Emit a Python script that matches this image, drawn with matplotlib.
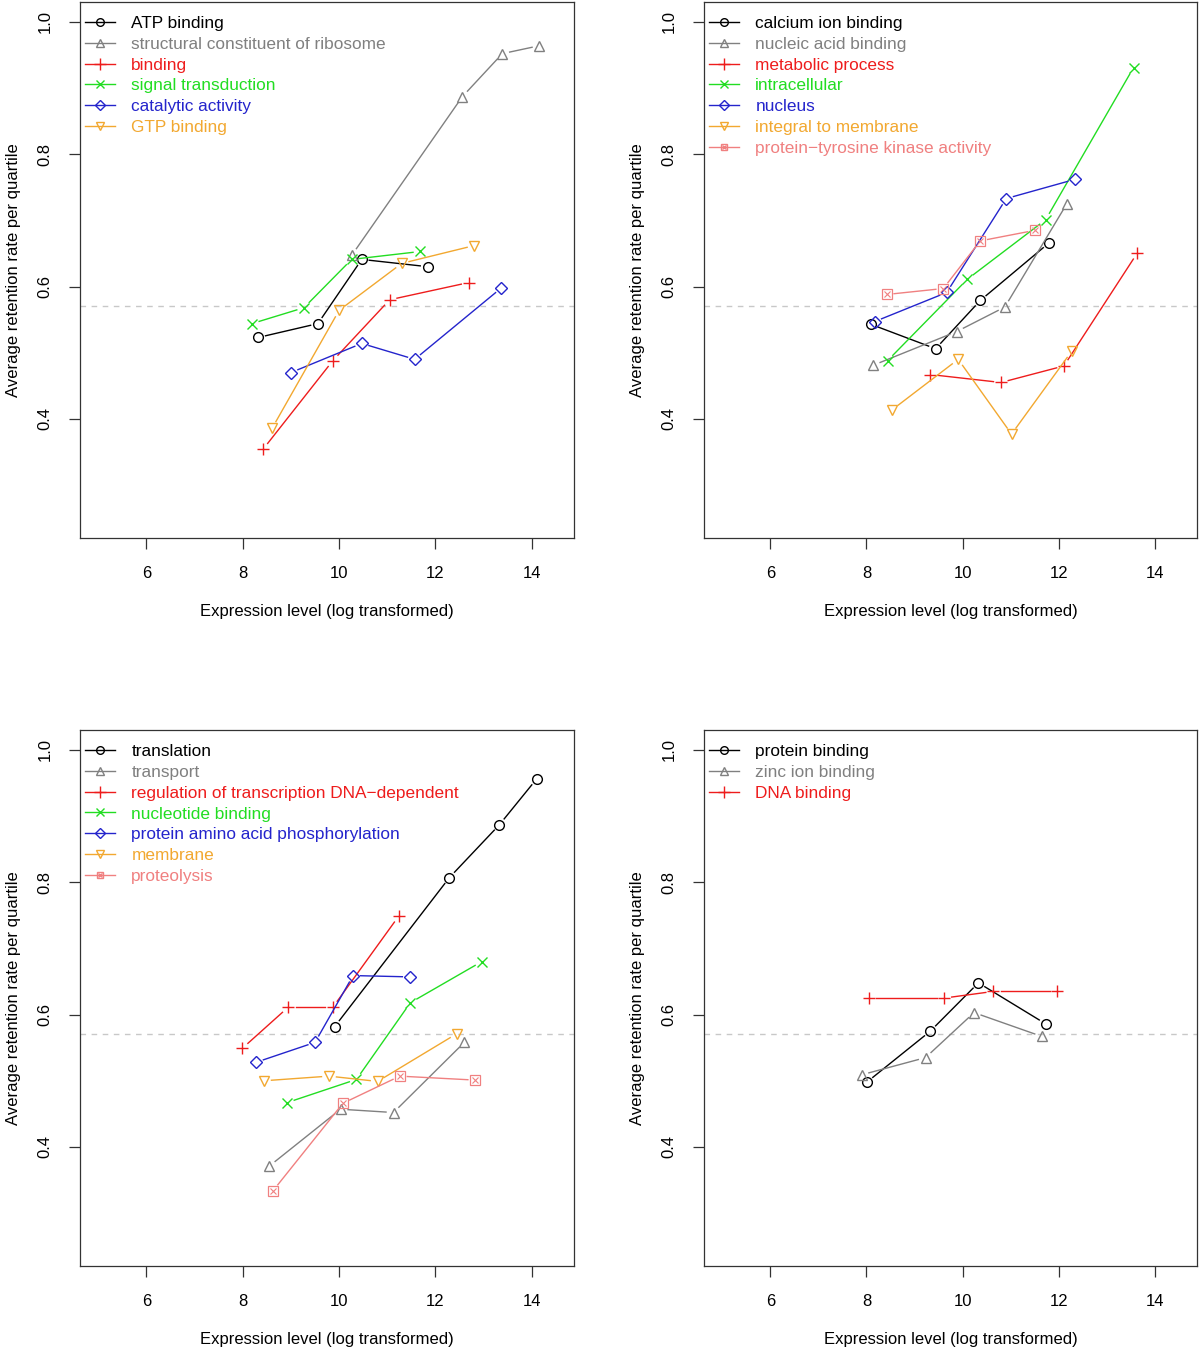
import numpy as np
import matplotlib
matplotlib.use("Agg")
import matplotlib.pyplot as plt
from matplotlib.lines import Line2D

plt.rcParams['font.family'] = ['Liberation Sans', 'DejaVu Sans']

# colours used for the series in order (R-style palette)
colors = ['black', '#808080', '#ee1c1c', '#22dd22', '#2424cc', '#f2a830', '#f08080']
markers = ['o', '^', '+', 'x', 'D', 'v', 'sx']

baseline = 0.57

# panel 1
p1_labels = ['ATP binding', 'structural constituent of ribosome', 'binding',
             'signal transduction', 'catalytic activity', 'GTP binding']
p1_x = [[8.32, 9.56, 10.47, 11.84],
        [10.27, 12.56, 13.39, 14.16],
        [8.42, 9.87, 11.05, 12.69],
        [8.19, 9.27, 10.26, 11.69],
        [9.00, 10.47, 11.57, 13.37],
        [8.61, 10.00, 11.30, 12.81]]
p1_y = [[0.523, 0.544, 0.641, 0.630],
        [0.648, 0.887, 0.952, 0.964],
        [0.354, 0.488, 0.580, 0.606],
        [0.544, 0.568, 0.641, 0.653],
        [0.470, 0.514, 0.490, 0.598],
        [0.386, 0.564, 0.635, 0.662]]

# panel 2
p2_labels = ['calcium ion binding', 'nucleic acid binding', 'metabolic process',
             'intracellular', 'nucleus', 'integral to membrane',
             'protein\u2212tyrosine kinase activity']
p2_x = [[8.09, 9.44, 10.37, 11.80],
        [8.14, 9.88, 10.88, 12.17],
        [9.33, 10.80, 12.11, 13.64],
        [8.44, 10.10, 11.73, 13.56],
        [8.17, 9.67, 10.91, 12.34],
        [8.54, 9.91, 11.02, 12.27],
        [8.42, 9.60, 10.37, 11.51]]
p2_y = [[0.543, 0.506, 0.579, 0.666],
        [0.481, 0.532, 0.569, 0.725],
        [0.467, 0.455, 0.480, 0.651],
        [0.488, 0.611, 0.701, 0.931],
        [0.547, 0.591, 0.733, 0.762],
        [0.414, 0.490, 0.377, 0.502],
        [0.588, 0.597, 0.669, 0.685]]

# panel 3
p3_labels = ['translation', 'transport', 'regulation of transcription DNA\u2212dependent',
             'nucleotide binding', 'protein amino acid phosphorylation', 'membrane',
             'proteolysis']
p3_x = [[9.91, 12.29, 13.33, 14.10],
        [8.55, 10.03, 11.13, 12.60],
        [7.99, 8.94, 9.87, 11.24],
        [8.92, 10.36, 11.48, 12.96],
        [8.28, 9.50, 10.29, 11.47],
        [8.44, 9.79, 10.80, 12.44],
        [8.63, 10.08, 11.26, 12.83]]
p3_y = [[0.582, 0.807, 0.887, 0.956],
        [0.371, 0.457, 0.452, 0.558],
        [0.549, 0.611, 0.611, 0.749],
        [0.467, 0.502, 0.618, 0.680],
        [0.528, 0.558, 0.659, 0.657],
        [0.500, 0.507, 0.499, 0.571],
        [0.334, 0.466, 0.507, 0.501]]

# panel 4
p4_labels = ['protein binding', 'zinc ion binding', 'DNA binding']
p4_x = [[8.01, 9.33, 10.33, 11.73],
        [7.90, 9.23, 10.24, 11.65],
        [8.05, 9.62, 10.64, 11.97]]
p4_y = [[0.498, 0.575, 0.648, 0.586],
        [0.509, 0.535, 0.603, 0.567],
        [0.625, 0.625, 0.635, 0.635]]

fig = plt.figure(figsize=(12, 13.5), dpi=100)
positions = [[0.0667, 0.6015, 0.4117, 0.397],
             [0.5867, 0.6015, 0.4108, 0.397],
             [0.0667, 0.0622, 0.4117, 0.397],
             [0.5867, 0.0622, 0.4108, 0.397]]
panels = [(p1_labels, p1_x, p1_y), (p2_labels, p2_x, p2_y),
          (p3_labels, p3_x, p3_y), (p4_labels, p4_x, p4_y)]

msizes = {'o': 7, '^': 7.5, 'v': 7.5, '+': 9, 'x': 7, 'D': 6.5}
leg_sizes = {'o': 5.5, '^': 6, 'v': 6, '+': 8, 'x': 5.5, 'D': 5.5}


def marker_lines(ax, x, y, m, c):
    if m == 'sx':
        ax.plot(x, y, 's', ms=6.5, mfc='none', mec=c, mew=0.9, ls='none')
        ax.plot(x, y, 'x', ms=4.5, mec=c, mew=0.8, ls='none')
        return
    ax.plot(x, y, m, ms=msizes[m], mfc='none', mec=c, mew=1.0, ls='none')


for pos, (labels, xs, ys) in zip(positions, panels):
    ax = fig.add_axes(pos)
    ax.set_xlim(4.62, 14.88)
    ax.set_ylim(0.22, 1.03)
    fig.canvas.draw()
    ax.axhline(baseline, color='#c8c8c8', ls=(0, (4, 4)), lw=1.0)
    handles = []
    for i, (lab, x, y) in enumerate(zip(labels, xs, ys)):
        c = colors[i]
        m = markers[i]
        # R type="b": lines with gaps around the points
        pts = ax.transData.transform(np.column_stack([x, y]))
        gap = 7.5
        for j in range(len(pts) - 1):
            p0, p1 = pts[j], pts[j + 1]
            d = p1 - p0
            L = np.hypot(*d)
            if L <= 2 * gap:
                continue
            u = d / L
            seg = ax.transData.inverted().transform([p0 + u * gap, p1 - u * gap])
            ax.plot(seg[:, 0], seg[:, 1], color=c, lw=1.0)
        marker_lines(ax, x, y, m, c)
        if m == 'sx':
            h = (Line2D([], [], color=c, lw=1.0, marker='s', ms=5, mfc='none', mec=c),
                 Line2D([], [], color=c, lw=0, marker='x', ms=3.5, mec=c))
        else:
            h = Line2D([], [], color=c, lw=1.0, marker=m, ms=leg_sizes[m], mfc='none', mec=c)
        handles.append(h)
    leg = ax.legend(handles, labels, loc='upper left', frameon=False, fontsize=12.4,
                    handlelength=1.75, handletextpad=0.95, labelspacing=0.34,
                    borderaxespad=0.25, borderpad=0.2, bbox_to_anchor=(-0.006, 0.989))
    for t, c in zip(leg.get_texts(), colors):
        t.set_color(c)
    ax.set_xticks([6, 8, 10, 12, 14])
    ax.set_yticks([0.4, 0.6, 0.8, 1.0])
    ax.set_yticklabels(['0.4', '0.6', '0.8', '1.0'], rotation=90, va='center')
    ax.tick_params(direction='out', length=8, width=0.9, labelsize=12, pad=12, color='#333333')
    ax.set_xlabel('Expression level (log transformed)', fontsize=12, labelpad=17)
    ax.set_ylabel('Average retention rate per quartile', fontsize=12, labelpad=12)
    for s in ax.spines.values():
        s.set_linewidth(0.9)
        s.set_color('#333333')

fig.savefig('out.png', dpi=100)
